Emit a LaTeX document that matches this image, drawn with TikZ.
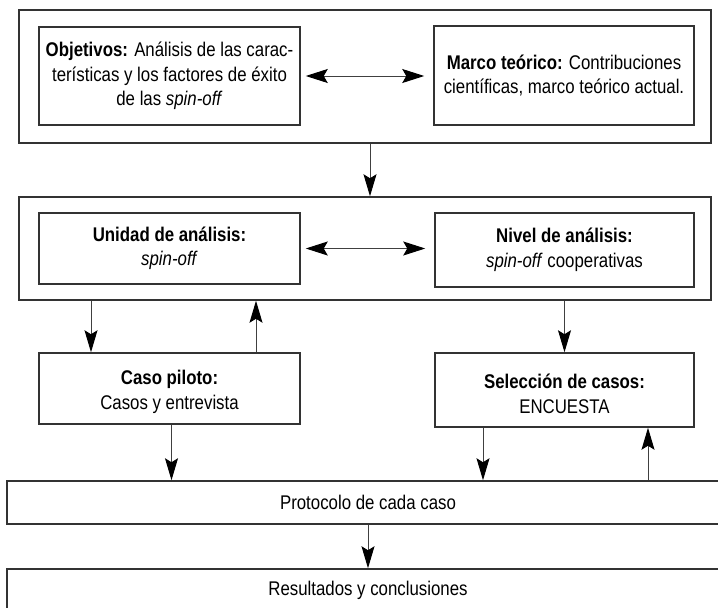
\documentclass[tikz,border=0pt]{standalone}
\usepackage{fontspec}
\setmainfont{Liberation Sans}[FakeStretch=0.85]
\usetikzlibrary{arrows.meta,calc}
\tikzset{
  frame/.style={draw=black!80, line width=1.5pt, rectangle, inner sep=0pt},
  box/.style={draw=black!80, line width=1.5pt, rectangle, inner sep=0pt, align=center,
    font=\fontsize{19.8}{24.5}\selectfont},
  txt/.style={inner sep=0pt, align=center, font=\fontsize{19.8}{24.5}\selectfont},
  arr/.style={draw=black!75, line width=1pt, -{Stealth[length=22pt,width=13pt,inset=4pt,black]}},
  darr/.style={draw=black!75, line width=1pt, {Stealth[length=22pt,width=14pt,inset=4pt,black]}-{Stealth[length=22pt,width=14pt,inset=4pt,black]}}
}
\begin{document}
\begin{tikzpicture}[x=1pt,y=-1pt]
\useasboundingbox (0,0) rectangle (718,608);
\begin{scope}
\clip (0,0) rectangle (718,608);
\fill[white] (0,0) rectangle (718,608);
% outer frames
\node[frame, minimum width=692pt, minimum height=133pt] (outer1) at (365,76.5) {};
\node[frame, minimum width=692pt, minimum height=103pt] (outer2) at (365,248.5) {};
% inner boxes
\node[box, minimum width=261pt, minimum height=98pt] (obj) at (169.5,76)
  {\textbf{Objetivos:} Análisis de las carac-\\terísticas y los factores de éxito\\de las \textit{spin-off}};
\node[box, minimum width=260pt, minimum height=99pt] (marco) at (564,75.5)
  {\textbf{Marco teórico:} Contribuciones\\científicas, marco teórico actual.};
\node[box, minimum width=261pt, minimum height=71pt] (unidad) at (169.5,248.5)
  {\textbf{Unidad de análisis:}\\\textit{spin-off}};
\node[box, minimum width=259pt, minimum height=74pt] (nivel) at (564.5,250)
  {\textbf{Nivel de análisis:}\\\textit{spin-off} cooperativas};
\node[box, minimum width=261pt, minimum height=71pt] (caso) at (169.5,388.5) {};
\node[txt] (casotext) at ([yshift=-3.5pt]caso.center)
  {\textbf{Caso piloto:}\\Casos y entrevista};
\node[box, minimum width=259pt, minimum height=74pt] (sel) at (564.5,390) {};
\node[txt] (seltext) at ([yshift=-4pt]sel.center)
  {\textbf{Selección de casos:}\\ENCUESTA};
\node[box, minimum width=722pt, minimum height=43pt] (prot) at (368,502.5)
  {Protocolo de cada caso};
\node[box, minimum width=722pt, minimum height=43pt] (res) at (368,590.5)
  {Resultados y conclusiones};
% connectors
\draw[darr, shorten <=5pt, shorten >=9pt] (obj.east) -- (obj.east -| marco.west);
\draw[darr, shorten <=5pt, shorten >=9pt] (unidad.east) -- (unidad.east -| nivel.west);
\draw[arr] ([xshift=5pt]outer1.south) -- ([xshift=5pt]outer2.north);
\draw[arr] ([xshift=-78.5pt]caso.north |- outer2.south) -- ([xshift=-78.5pt]caso.north);
\draw[arr] ([xshift=86.5pt]caso.north) -- ([xshift=86.5pt]caso.north |- outer2.south);
\draw[arr] (sel.north |- outer2.south) -- (sel.north);
\draw[arr] ([xshift=2pt]caso.south) -- ([xshift=2pt]caso.south |- prot.north);
\draw[arr] ([xshift=-81.5pt]sel.south) -- ([xshift=-81.5pt]sel.south |- prot.north);
\draw[arr] ([xshift=83.5pt]sel.south |- prot.north) -- ([xshift=83.5pt]sel.south);
\draw[arr] (prot.south) -- (res.north);
\end{scope}
\end{tikzpicture}
\end{document}
